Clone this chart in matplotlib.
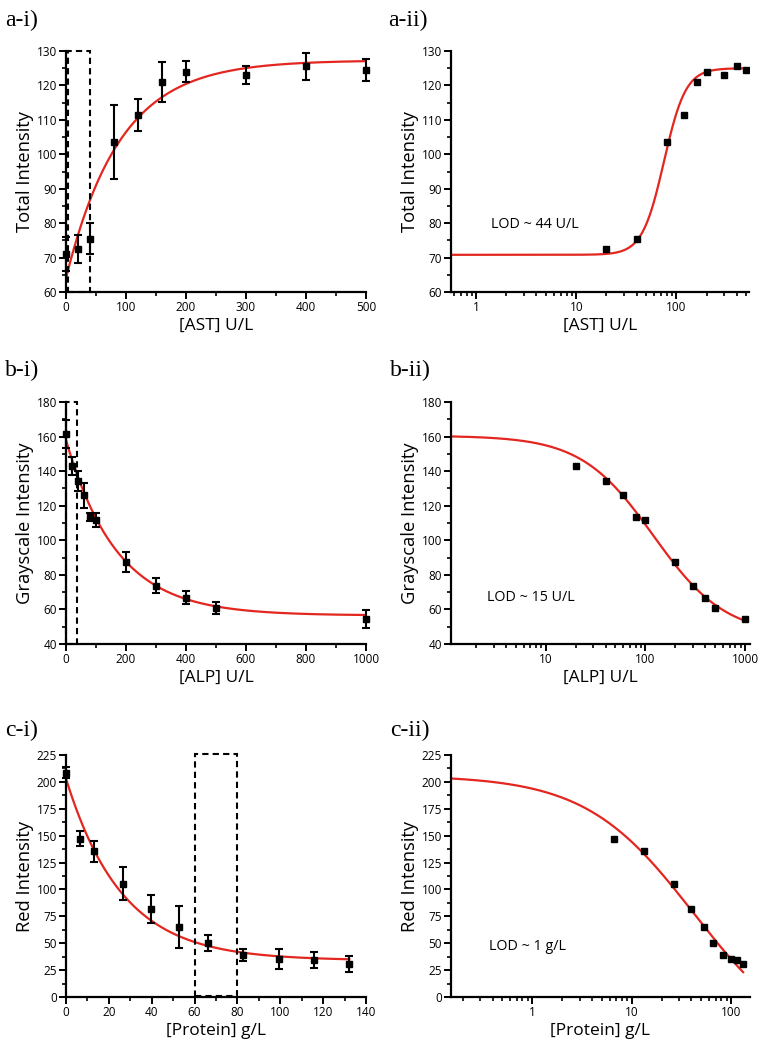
import numpy as np
import matplotlib
matplotlib.use('Agg')
import matplotlib.pyplot as plt
from matplotlib.patches import Rectangle
from matplotlib.ticker import MultipleLocator, LogLocator, NullFormatter, FuncFormatter

plt.rcParams['font.family'] = ['Open Sans', 'DejaVu Sans']

# AST assay
ast_conc = [0, 20, 40, 80, 120, 160, 200, 300, 400, 500]
ast_int = [71, 72.5, 75.5, 103.5, 111.5, 121, 124, 123, 125.5, 124.5]
ast_err = [5, 4, 4.5, 10.8, 4.6, 5.8, 3, 2.5, 4, 3.3]

# ALP assay
alp_conc = [0, 20, 40, 60, 80, 100, 200, 300, 400, 500, 1000]
alp_int = [161.5, 143, 134.5, 126, 113.5, 111.8, 87.3, 73.8, 66.8, 60.8, 54.4]
alp_err = [8, 5, 5.8, 7.2, 2.5, 3.9, 5.7, 4.5, 3.9, 3.4, 5.2]

# protein assay
prot_conc = [0, 6.6, 13.2, 26.4, 39.7, 52.9, 66.1, 82.6, 99.2, 115.7, 132.2]
prot_int = [208.6, 147.3, 135.5, 105.5, 81.5, 65, 50.2, 38.7, 35, 34.4, 30.5]
prot_err = [5, 7, 10, 15.5, 13, 19.8, 7.5, 5.5, 9.3, 7.7, 7.5]

# fitted curve parameters
ast_exp = (127.3, 63.3, 90.0)      # plateau, amplitude, decay constant
alp_exp = (56.5, -101.5, 169.0)
prot_exp = (34.0, -169.0, 26.2)
ast_hill = (70.8, 125.0, 75.0, 4.0)   # low-x value, high-x value, x0, n
alp_hill = (160.5, 45.0, 120.0, 1.2)
prot_hill = (206.0, -50.0, 42.0, 0.8)

RED = '#e3261f'


def exp_curve(x, p):
    plateau, amp, k = p
    return plateau - amp * np.exp(-x / k)


def hill_curve(x, p):
    a, b, x0, n = p
    return b + (a - b) / (1 + (x / x0) ** n)


def style_axes(ax):
    for s in ['top', 'right']:
        ax.spines[s].set_visible(False)
    for s in ['left', 'bottom']:
        ax.spines[s].set_linewidth(1.6)
    ax.tick_params(which='major', direction='out', length=5, width=1.4, labelsize=8.5, pad=1.5)
    ax.tick_params(which='minor', direction='out', length=3, width=1.2)


def linear_panel(ax, x, y, err, p, xlim, ylim, xmaj, ymaj, box, xlabel, ylabel):
    xs = np.linspace(xlim[0], max(x), 400)
    ax.plot(xs, exp_curve(xs, p), color=RED, lw=1.6, zorder=2)
    ax.errorbar(x, y, yerr=err, fmt='s', color='black', ms=4.2, capsize=2.6,
                elinewidth=1.5, capthick=1.5, zorder=3, clip_on=False)
    ax.add_patch(Rectangle((box[0], box[2]), box[1] - box[0], box[3] - box[2],
                           fill=False, ls=(0, (3, 2)), lw=1.5, ec='black', clip_on=False, zorder=4))
    ax.set_xlim(xlim)
    ax.set_ylim(ylim)
    ax.xaxis.set_major_locator(MultipleLocator(xmaj))
    ax.xaxis.set_minor_locator(MultipleLocator(xmaj / 2))
    ax.yaxis.set_major_locator(MultipleLocator(ymaj))
    ax.yaxis.set_minor_locator(MultipleLocator(ymaj / 2))
    ax.set_xlabel(xlabel, fontsize=12.5, labelpad=3)
    ax.set_ylabel(ylabel, fontsize=13.2, labelpad=2)
    style_axes(ax)


def log_panel(ax, x, y, p, xlim, ylim, ymaj, lod, lod_xy, xlabel, ylabel):
    xs = np.logspace(np.log10(xlim[0]), np.log10(max(x)), 400)
    ax.plot(xs, hill_curve(xs, p), color=RED, lw=1.6, zorder=2)
    ax.plot(x[1:], y[1:], 's', color='black', ms=4.2, zorder=3)
    ax.set_xscale('log')
    ax.set_xlim(xlim)
    ax.set_ylim(ylim)
    ax.xaxis.set_major_locator(LogLocator(base=10, numticks=10))
    ax.xaxis.set_major_formatter(FuncFormatter(lambda v, pos: f'{v:g}'))
    ax.xaxis.set_minor_locator(LogLocator(base=10, subs=np.arange(2, 10), numticks=20))
    ax.xaxis.set_minor_formatter(NullFormatter())
    ax.yaxis.set_major_locator(MultipleLocator(ymaj))
    ax.yaxis.set_minor_locator(MultipleLocator(ymaj / 2))
    ax.text(lod_xy[0], lod_xy[1], lod, fontsize=10.3, va='center', ha='left')
    ax.set_xlabel(xlabel, fontsize=12.5, labelpad=3)
    ax.set_ylabel(ylabel, fontsize=13.2, labelpad=2)
    style_axes(ax)


W, H = 766, 1050
fig = plt.figure(figsize=(W / 100, H / 100), dpi=100)


def add_ax(left, right, top, bottom):
    return fig.add_axes([left / W, 1 - bottom / H, (right - left) / W, (bottom - top) / H])


ax1 = add_ax(66, 366, 51, 292)
ax2 = add_ax(451, 749, 51, 292)
ax3 = add_ax(66, 366, 402, 644)
ax4 = add_ax(451, 750, 402, 644)
ax5 = add_ax(66, 366, 755, 997)
ax6 = add_ax(451, 750, 755, 997)

linear_panel(ax1, ast_conc, ast_int, ast_err, ast_exp, (0, 500), (60, 130), 100, 10,
             (2.8, 40, 60, 130), '[AST] U/L', 'Total Intensity')
log_panel(ax2, ast_conc, ast_int, ast_hill, (0.56, 530), (60, 130), 10,
          'LOD ~ 44 U/L', (1.42, 79.7), '[AST] U/L', 'Total Intensity')
linear_panel(ax3, alp_conc, alp_int, alp_err, alp_exp, (0, 1000), (40, 180), 200, 20,
             (1.5, 35.5, 40, 180), '[ALP] U/L', 'Grayscale Intensity')
log_panel(ax4, alp_conc, alp_int, alp_hill, (1.12, 1120), (40, 180), 20,
          'LOD ~ 15 U/L', (2.6, 66.8), '[ALP] U/L', 'Grayscale Intensity')
linear_panel(ax5, prot_conc, prot_int, prot_err, prot_exp, (0, 140), (0, 225), 20, 25,
             (60, 80, 0.5, 226), '[Protein] g/L', 'Red Intensity')
log_panel(ax6, prot_conc, prot_int, prot_hill, (0.153, 155), (0, 225), 25,
          'LOD ~ 1 g/L', (0.37, 46.7), '[Protein] g/L', 'Red Intensity')

labels = ['a-i)', 'a-ii)', 'b-i)', 'b-ii)', 'c-i)', 'c-ii)']
label_xy = [(5, 26), (388, 26), (5, 376), (390, 376), (5, 736), (390, 736)]
for lab, (lx, ly) in zip(labels, label_xy):
    fig.text(lx / W, 1 - ly / H, lab, family='Liberation Serif', fontsize=17, va='baseline')

fig.savefig('out.png', dpi=100, facecolor='white')
